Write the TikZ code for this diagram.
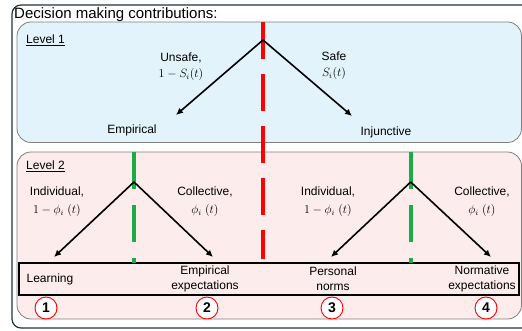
\documentclass[tikz,border=0pt]{standalone}
\usepackage{fontspec}
\setmainfont{Liberation Sans}
\usetikzlibrary{arrows.meta}
\definecolor{lvlone}{HTML}{E2F3FB}
\definecolor{lvltwo}{HTML}{FCECEB}
\definecolor{boxgrey}{HTML}{7F7F7F}
\definecolor{outerc}{HTML}{22323F}
\definecolor{reddash}{HTML}{FF0000}
\definecolor{greendash}{HTML}{1FAA4A}
\begin{document}
\begin{tikzpicture}[x=1pt,y=-1pt,
  lbl/.style={font=\fontsize{12}{15}\selectfont, align=center, inner sep=0pt},
  arr/.style={-{Latex[length=7pt,width=6.5pt]}, line width=1.6pt, black},
  levelbox/.style={draw=boxgrey, line width=0.8pt, rounded corners=14pt},
  reddiv/.style={draw=reddash, line width=4pt, dash pattern=on 37pt off 15pt},
  greendiv/.style={draw=greendash, line width=4pt, dash pattern=on 37pt off 16pt},
  numcirc/.style={circle, draw=red, fill=white, line width=0.9pt, minimum size=22pt, inner sep=0pt, font=\bfseries\fontsize{14}{14}\selectfont},
  levellbl/.style={anchor=west, inner sep=0pt, font=\fontsize{12}{14}\selectfont}]
\useasboundingbox (0,0) rectangle (522,331);
\begin{scope}
\clip (0,0) rectangle (522,331);
% outer frame
\draw[outerc, line width=1.2pt, rounded corners=9pt] (12,5) rectangle (545,328);
% level boxes
\draw[levelbox, fill=lvlone] (17,22) rectangle (521.5,142.5);
\draw[levelbox, fill=lvltwo] (17,152) rectangle (521.5,319);
\end{scope}
% title
\node[anchor=west, inner sep=0pt, font=\fontsize{15}{17}\selectfont] (title) at (14,15) {Decision making contributions:};
\node[levellbl] (lv1) at (26,40) {\underline{Level 1}};
\node[levellbl] (lv2) at (26,166) {\underline{Level 2}};
% row box
\node[draw, line width=2pt, minimum width=500pt, minimum height=32pt, inner sep=0pt] (row) at (269,278.7) {};
% dividers
\coordinate (rtop) at (263,22);
\coordinate (rbot) at (263,259);
\draw[reddiv] (rtop) -- (rbot);
\coordinate (g1top) at (134,152);
\coordinate (g1bot) at (134,263);
\coordinate (g2top) at (410.7,152);
\coordinate (g2bot) at (410.7,263);
\draw[greendiv] (g1top) -- (g1bot);
\draw[greendiv] (g2top) -- (g2bot);
% level 1 arrows
\coordinate (apex1) at (263,40);
\coordinate (empend) at (176,115);
\coordinate (injend) at (352,116);
\draw[arr] (apex1) -- (empend);
\draw[arr] (apex1) -- (injend);
\node[lbl] (unsafe) at (181,67) {Unsafe,\\[1pt] $1-S_i(t)$};
\node[lbl] (safe) at (334,66) {Safe\\[1pt] $S_i(t)$};
\node[lbl] (emp) at (132,130) {Empirical};
\node[lbl] (inj) at (386,132) {Injunctive};
% level 2 arrows
\coordinate (apex2) at (134,182);
\coordinate (apex3) at (410.7,182);
\coordinate (learnend) at (54,257);
\coordinate (empexend) at (213,257);
\coordinate (persend) at (331,257);
\coordinate (normend) at (491,257);
\draw[arr] (apex2) -- (learnend);
\draw[arr] (apex2) -- (empexend);
\draw[arr] (apex3) -- (persend);
\draw[arr] (apex3) -- (normend);
\node[lbl] (ind1) at (57,202) {Individual,\\[3pt] $1-\phi_i\ (t)$};
\node[lbl] (col1) at (205,202) {Collective,\\[3pt] $\phi_i\ (t)$};
\node[lbl] (ind2) at (328,202) {Individual,\\[3pt] $1-\phi_i\ (t)$};
\node[lbl] (col2) at (482,202) {Collective,\\[3pt] $\phi_i\ (t)$};
% row labels
\node[lbl] (learn) at (50,279) {Learning};
\node[lbl] (empex) at (205,279) {Empirical\\expectations};
\node[lbl] (pers) at (333,279) {Personal\\norms};
\node[lbl] (norm) at (482,279) {Normative\\expectations};
% numbered circles
\node[numcirc] (n1) at (46,308) {1};
\node[numcirc] (n2) at (207,308) {2};
\node[numcirc] (n3) at (332,308) {3};
\node[numcirc] (n4) at (486,308) {4};
\end{tikzpicture}
\end{document}
